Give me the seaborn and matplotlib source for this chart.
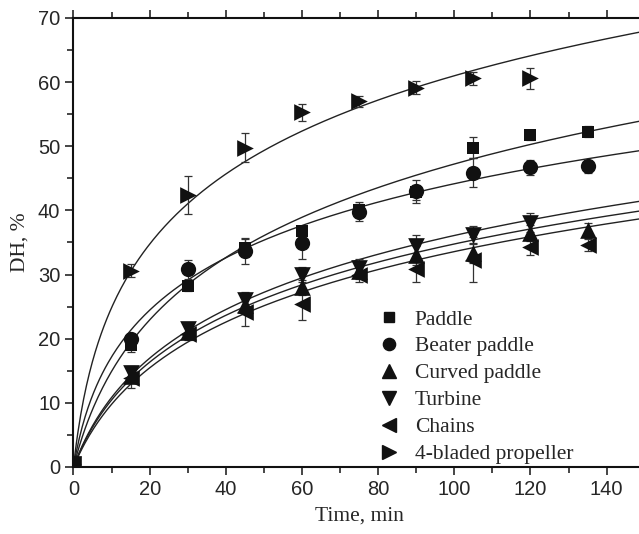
import numpy as np
import pandas as pd
import seaborn as sns
import matplotlib.pyplot as plt
from matplotlib.lines import Line2D
from matplotlib.ticker import MultipleLocator

# sampling times (min)
time_min = [0, 15, 30, 45, 60, 75, 90, 105, 120, 135]

# degree of hydrolysis (%), one list per agitator
paddle = [0.5, 19.0, 28.2, 34.2, 36.8, 40.0, 42.8, 49.8, 51.8, 52.3]
beater_paddle = [0.5, 20.0, 30.8, 33.6, 34.9, 39.8, 43.0, 45.9, 46.7, 46.9]
curved_paddle = [0.5, 14.2, 21.0, 25.3, 28.0, 30.5, 33.0, 33.3, 36.5, 36.9]
turbine = [0.5, 14.6, 21.5, 26.1, 30.0, 31.0, 34.4, 36.2, 38.1]
chains = [0.5, 13.8, 20.8, 24.2, 25.4, 30.0, 30.8, 32.3, 34.3, 34.6]
propeller = [0.5, 30.6, 42.4, 49.8, 55.3, 57.0, 59.1, 60.6, 60.6]

# standard deviations (error bars)
paddle_err = [0, 1.0, 0.8, 1.5, 0.8, 1.0, 1.2, 1.6, 0.8, 0.8]
beater_err = [0, 0.8, 1.5, 2.0, 2.4, 1.5, 1.8, 2.2, 1.2, 1.0]
curved_err = [0, 1.0, 1.0, 1.2, 1.2, 1.2, 1.5, 1.5, 1.2, 1.2]
turbine_err = [0, 1.2, 1.0, 1.2, 1.2, 1.5, 1.8, 1.3, 1.5]
chains_err = [0, 1.5, 1.0, 2.2, 2.5, 1.2, 2.0, 3.5, 1.2, 1.0]
propeller_err = [0, 1.0, 3.0, 2.2, 1.3, 0.8, 1.0, 1.0, 1.6]

# fitted model DH = a*ln(1 + b*t), parameters
fit_a = [17.9, 13.4, 13.9, 14.43, 13.9, 17.6]
fit_b = [0.13, 0.26, 0.112, 0.112, 0.102, 0.31]

labels = ["Paddle", "Beater paddle", "Curved paddle", "Turbine", "Chains", "4-bladed propeller"]
series = [paddle, beater_paddle, curved_paddle, turbine, chains, propeller]
errors = [paddle_err, beater_err, curved_err, turbine_err, chains_err, propeller_err]
markers = ["s", "o", "^", "v", "<", ">"]
msizes = [9, 11, 12, 12, 12, 12]

rows = []
for lab, vals, errs in zip(labels, series, errors):
    for t, v, e in zip(time_min, vals, errs):
        rows.append({"Time": t, "DH": v, "err": e, "Agitator": lab})
df = pd.DataFrame(rows)

sns.set_style("ticks")
plt.rcParams["font.family"] = ["Liberation Sans", "DejaVu Sans"]
plt.rcParams["xtick.direction"] = "out"
plt.rcParams["ytick.direction"] = "out"

fig = plt.figure(figsize=(6.39, 5.34), dpi=100)
ax = fig.add_axes([0.115, 0.1255, 0.894, 0.8408])

# fitted curves
t_fine = np.linspace(0, 152, 400)
curves = []
for lab, a, b in zip(labels, fit_a, fit_b):
    curves.append(pd.DataFrame({"Time": t_fine, "DH": a * np.log1p(b * t_fine), "Agitator": lab}))
curve_df = pd.concat(curves)
sns.lineplot(data=curve_df, x="Time", y="DH", units="Agitator", estimator=None,
             color="#222222", lw=1.0, ax=ax, legend=False)

# error bars
for lab in labels:
    sub = df[df["Agitator"] == lab]
    ax.errorbar(sub["Time"], sub["DH"], yerr=sub["err"], fmt="none",
                ecolor="#333333", elinewidth=0.9, capsize=3.2, capthick=0.9, zorder=3)

# markers
for lab, m, ms in zip(labels, markers, msizes):
    sub = df[df["Agitator"] == lab]
    sns.scatterplot(data=sub, x="Time", y="DH", marker=m, s=ms ** 2, color="#111111",
                    edgecolor="#111111", linewidth=0, ax=ax, zorder=4, legend=False)

ax.set_xlim(0, 150)
ax.set_ylim(0, 70)
ax.xaxis.set_major_locator(MultipleLocator(20))
ax.xaxis.set_minor_locator(MultipleLocator(10))
ax.yaxis.set_major_locator(MultipleLocator(10))
ax.yaxis.set_minor_locator(MultipleLocator(5))
ax.tick_params(which="major", length=6, width=1.2, labelsize=14.5, top=True, right=False)
ax.tick_params(which="minor", length=4, width=1.2, top=True, right=False)
ax.tick_params(axis="x", labeltop=False)
for s in ax.spines.values():
    s.set_linewidth(1.5)
    s.set_color("#111111")

ax.set_xlabel("Time, min", family=["Liberation Serif"], fontsize=15.5, labelpad=5)
ax.set_ylabel("DH, %", family=["Liberation Serif"], fontsize=15.5, labelpad=6)

handles = [Line2D([], [], ls="none", marker=m, color="#111111", markersize=ms * 0.8)
           for m, ms in zip(markers, msizes)]
ax.legend(handles, labels, loc="upper left", bbox_to_anchor=(0.52, 0.37), frameon=False,
          prop={"family": "Liberation Serif", "size": 15.5}, handlelength=0.9,
          handletextpad=0.75, labelspacing=0.32, borderaxespad=0)

plt.savefig("out.png", dpi=100)
